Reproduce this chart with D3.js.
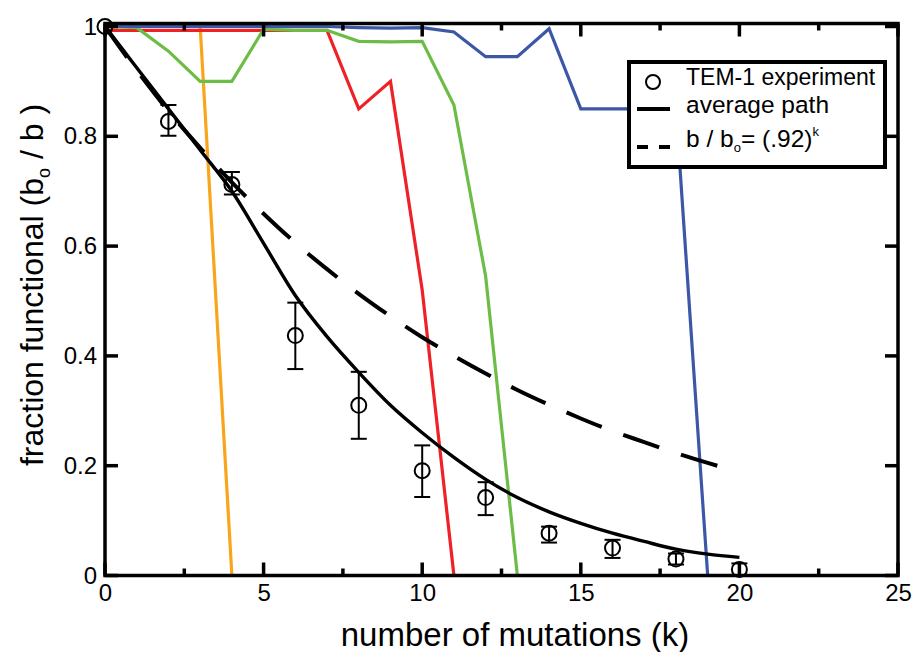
<!DOCTYPE html>
<html>
<head>
<meta charset="utf-8">
<script src="https://cdn.jsdelivr.net/npm/d3@7"></script>
<style>
  body { margin: 0; background: #fff; }
  svg { font-family: "Liberation Sans", Arial, sans-serif; color: #000; }
</style>
</head>
<body>
<svg width="914" height="652"></svg>
<script>
// experiment (TEM-1): mean and error bar ends
const expK = [0, 2, 4, 6, 8, 10, 12, 14, 16, 18, 20];
const expMean = [1.0, 0.827, 0.712, 0.437, 0.310, 0.191, 0.142, 0.077, 0.050, 0.030, 0.011];
const expLow = [1.0, 0.801, 0.694, 0.376, 0.249, 0.143, 0.110, 0.060, 0.032, 0.020, 0.0];
const expHigh = [1.0, 0.857, 0.735, 0.497, 0.371, 0.237, 0.170, 0.089, 0.065, 0.040, 0.022];

// average path and the b/bo = (.92)^k curve, read at each k
const kSteps = [0, 1, 2, 3, 4, 5, 6, 7, 8, 9, 10, 11, 12, 13, 14, 15, 16, 17, 18, 19, 20];
const avgPath = [1.0, 0.925, 0.85, 0.775, 0.70, 0.605, 0.51, 0.435, 0.37, 0.31, 0.26,
                 0.215, 0.175, 0.142, 0.116, 0.095, 0.077, 0.062, 0.048, 0.039, 0.033];
const decayPath = [1.0, 0.92, 0.846, 0.779, 0.716, 0.659, 0.606, 0.558, 0.513, 0.472, 0.434,
                   0.400, 0.368, 0.338, 0.311, 0.286, 0.263, 0.243, 0.223, 0.205, 0.189];

// single simulated paths
const orangePath = [1, 1, 1, 1, 0];
const redPath = [0.993, 0.993, 0.993, 0.993, 0.993, 0.993, 0.993, 0.993, 0.85, 0.90, 0.52, 0];
const greenPath = [1, 0.998, 0.955, 0.90, 0.90, 0.995, 0.993, 0.993, 0.973, 0.972, 0.973, 0.857, 0.545, 0];
const bluePath = [1, 1, 1, 1, 1, 1, 1, 1, 0.998, 0.997, 0.998, 0.99, 0.945, 0.945, 0.996,
                  0.85, 0.85, 0.85, 0.85, 0];

const xMajor = [0, 5, 10, 15, 20, 25];
const xMinor = [2.5, 7.5, 12.5, 17.5, 22.5];
const yMajor = [0, 0.2, 0.4, 0.6, 0.8, 1];
const yTickLabels = ["0", "0.2", "0.4", "0.6", "0.8", "1"];

const legendLabels = ["TEM-1 experiment", "average path"];

const svg = d3.select("svg");

const plotLeft = 105, plotRight = 898, plotTop = 23.5, plotBottom = 575.5;

const x = d3.scaleLinear().domain([0, 25]).range([plotLeft, plotRight]);
const y = d3.scaleLinear().domain([0, 1]).range([plotBottom, 26.5]);

// colored paths
const line = d3.line().x(d => x(d[0])).y(d => y(d[1]));
const smooth = d3.line().x(d => x(d[0])).y(d => y(d[1])).curve(d3.curveMonotoneX);
const colored = [
  [orangePath, "#f8a51c"],
  [redPath, "#ee2127"],
  [greenPath, "#6bbd45"],
  [bluePath, "#3b57a6"]
];
colored.forEach(([vals, col]) => {
  svg.append("path")
    .datum(vals.map((v, i) => [kSteps[i], v]))
    .attr("d", line)
    .attr("fill", "none")
    .attr("stroke", col)
    .attr("stroke-width", 3.2);
});

// (.92)^k dashed
svg.append("path")
  .datum(decayPath.map((v, i) => [kSteps[i], v]))
  .attr("d", smooth)
  .attr("fill", "none")
  .attr("stroke", "#000")
  .attr("stroke-width", 4)
  .attr("stroke-dasharray", "38,23");

// average path
svg.append("path")
  .datum(avgPath.map((v, i) => [kSteps[i], v]))
  .attr("d", smooth)
  .attr("fill", "none")
  .attr("stroke", "#000")
  .attr("stroke-width", 3.4);

// error bars + circles
const exp = expK.map((k, i) => ({k: k, m: expMean[i], lo: expLow[i], hi: expHigh[i]}));
const eb = svg.append("g").attr("stroke", "#000").attr("stroke-width", 2).attr("fill", "none");
exp.filter(d => d.hi > d.lo).forEach(d => {
  eb.append("line").attr("x1", x(d.k)).attr("x2", x(d.k)).attr("y1", y(d.lo)).attr("y2", y(d.hi));
  eb.append("line").attr("x1", x(d.k) - 8).attr("x2", x(d.k) + 8).attr("y1", y(d.lo)).attr("y2", y(d.lo));
  eb.append("line").attr("x1", x(d.k) - 8).attr("x2", x(d.k) + 8).attr("y1", y(d.hi)).attr("y2", y(d.hi));
});
eb.selectAll("circle")
  .data(exp)
  .join("circle")
  .attr("cx", d => x(d.k))
  .attr("cy", d => y(d.m))
  .attr("r", 7.5);

// tick labels from d3 axes
function styleAxis(g) {
  g.select(".domain").remove();
  g.selectAll(".tick line").remove();
  g.selectAll("text").attr("font-size", 24).attr("fill", "#000")
    .attr("font-family", "'Liberation Sans', Arial, sans-serif");
}
svg.append("g").attr("transform", `translate(0,${plotBottom})`)
  .call(d3.axisBottom(x).tickValues(xMajor).tickSize(0).tickPadding(8).tickFormat(d3.format("d")))
  .call(styleAxis);
svg.append("g").attr("transform", `translate(${plotLeft},0)`)
  .call(d3.axisLeft(y).tickValues(yMajor).tickSize(0).tickPadding(8)
    .tickFormat((d, i) => yTickLabels[i]))
  .call(styleAxis);

// inward tick marks on all four sides
const ticks = svg.append("g").attr("stroke", "#000").attr("stroke-width", 3.5);
[[xMajor, 13], [xMinor, 7]].forEach(([vals, len]) => {
  ticks.selectAll(null).data(vals).join("line")
    .attr("x1", d => x(d)).attr("x2", d => x(d))
    .attr("y1", plotBottom).attr("y2", plotBottom - len);
  ticks.selectAll(null).data(vals).join("line")
    .attr("x1", d => x(d)).attr("x2", d => x(d))
    .attr("y1", plotTop).attr("y2", plotTop + len);
});
ticks.selectAll(null).data(yMajor).join("line")
  .attr("x1", plotLeft).attr("x2", plotLeft + 13)
  .attr("y1", d => y(d)).attr("y2", d => y(d));
ticks.selectAll(null).data(yMajor).join("line")
  .attr("x1", plotRight).attr("x2", plotRight - 13)
  .attr("y1", d => y(d)).attr("y2", d => y(d));

// frame
svg.append("rect")
  .attr("x", plotLeft).attr("y", plotTop)
  .attr("width", plotRight - plotLeft).attr("height", plotBottom - plotTop)
  .attr("fill", "none").attr("stroke", "#000").attr("stroke-width", 3.5);

// axis titles
svg.append("text")
  .attr("x", 515).attr("y", 646)
  .attr("text-anchor", "middle")
  .attr("font-size", 33)
  .text("number of mutations (k)");

const yl = svg.append("text")
  .attr("transform", "translate(43,285) rotate(-90)")
  .attr("text-anchor", "middle")
  .attr("font-size", 32);
yl.append("tspan").text("fraction functional (b");
yl.append("tspan").attr("font-size", 18).attr("dy", 7).text("o");
yl.append("tspan").attr("dy", -7).text(" / b )");

// legend
const lg = svg.append("g");
lg.append("rect")
  .attr("x", 629).attr("y", 62).attr("width", 256).attr("height", 105)
  .attr("fill", "#fff").attr("stroke", "#000").attr("stroke-width", 4);
lg.append("circle").attr("cx", 653).attr("cy", 82).attr("r", 7)
  .attr("fill", "none").attr("stroke", "#000").attr("stroke-width", 2);
lg.append("line").attr("x1", 637).attr("x2", 670).attr("y1", 109).attr("y2", 109)
  .attr("stroke", "#000").attr("stroke-width", 4);
lg.append("line").attr("x1", 637).attr("x2", 670).attr("y1", 147).attr("y2", 147)
  .attr("stroke", "#000").attr("stroke-width", 4).attr("stroke-dasharray", "11,11");
lg.append("text").attr("x", 686).attr("y", 85).attr("font-size", 23).text(legendLabels[0]);
lg.append("text").attr("x", 686).attr("y", 113).attr("font-size", 24.5).text(legendLabels[1]);
const l3 = lg.append("text").attr("x", 686).attr("y", 147).attr("font-size", 24.5);
l3.append("tspan").text("b / b");
l3.append("tspan").attr("font-size", 13).attr("dy", 5).text("o");
l3.append("tspan").attr("dy", -5).text("= (.92)");
l3.append("tspan").attr("font-size", 13).attr("dy", -11).text("k");
</script>
</body>
</html>
